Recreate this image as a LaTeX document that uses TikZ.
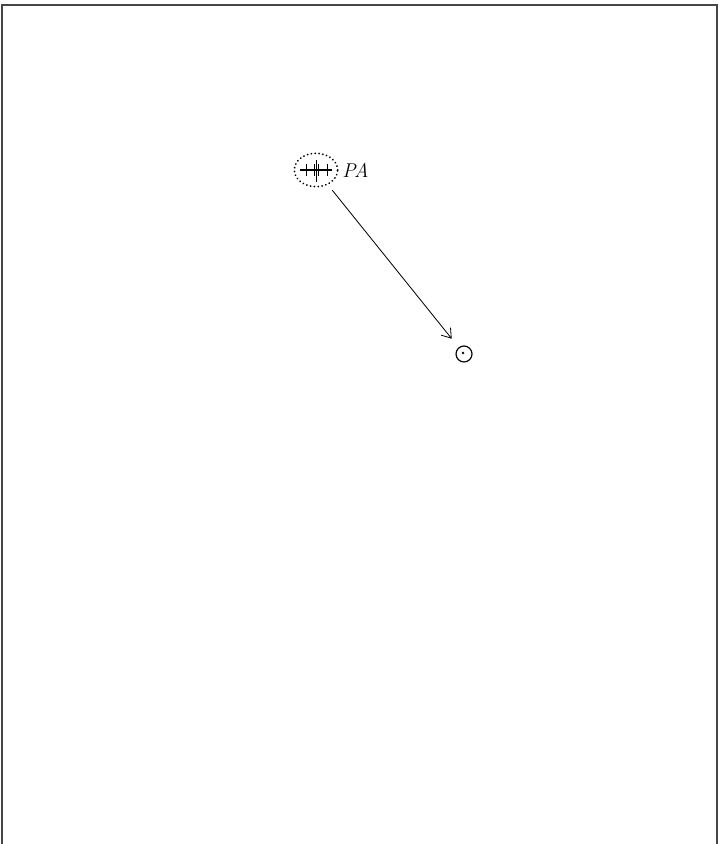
\documentclass[tikz,border=0pt]{standalone}
\usepackage{tikz}
\usetikzlibrary{positioning,arrows.meta,shapes.geometric}
\definecolor{scangray}{RGB}{70,70,70}
\tikzset{
  groupring/.style={draw,ellipse,line width=1.6pt,dash pattern=on .1pt off 3.2pt,line cap=round,minimum width=1.3cm,minimum height=1.0cm,inner sep=0pt},
  targetring/.style={draw,circle,line width=1pt,minimum size=.48cm,inner sep=0pt}
}
\begin{document}
\begin{tikzpicture}[x=.03cm,y=.03cm,every node/.style={font=\fontsize{17}{20}\selectfont}]
    \useasboundingbox (0,0) rectangle (720,844);
    % scanned frame
    \draw[scangray,line width=2pt] (2,0)--(2,839)--(717,839)--(717,0);
    % group of particles
    \node[groupring] (pa) at (316,674) {};
    \draw[line width=.9pt] (300,674)--(332,674);
    \foreach \tx in {306,314,318,327}
      \draw[line width=.8pt] (\tx,668)--(\tx,680);
    \draw[line width=.8pt] (316,662)--(316,684);
    \node[right=2pt of pa,inner sep=1pt] (palabel) {\textit{PA}};
    % target
    \node[targetring] (tgt) at (464,490) {};
    \fill (463,491) circle (1.3);
    \draw[-{Straight Barb[length=2.6mm,width=3.6mm]},line width=.7pt,shorten <=.2cm,shorten >=.33cm] (pa) -- (tgt);
  \end{tikzpicture}
\end{document}
